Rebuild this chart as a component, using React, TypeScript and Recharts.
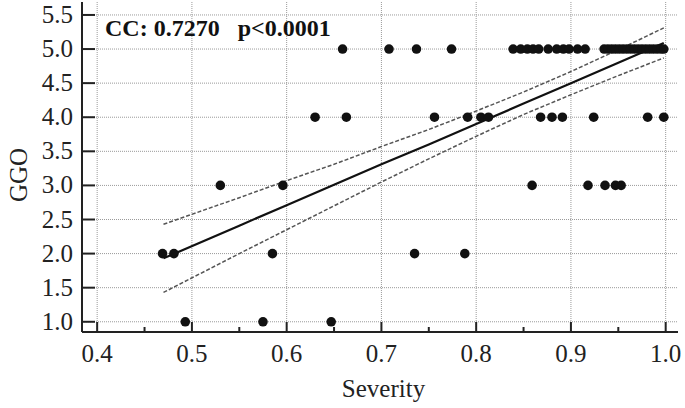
import React from 'react';
import { ScatterChart, Scatter, XAxis, YAxis, CartesianGrid } from 'recharts';

document.body.style.margin = '0';

// GGO score vs severity
const severity5 = [
  0.659, 0.708, 0.737, 0.774, 0.839, 0.847, 0.854, 0.860, 0.866, 0.876, 0.885, 0.892, 0.898, 0.907, 0.915,
  0.935, 0.939, 0.943, 0.947, 0.951, 0.955, 0.959, 0.963, 0.967, 0.971, 0.975, 0.979, 0.983, 0.987, 0.991, 0.995, 0.998,
];
const severity4 = [0.630, 0.663, 0.756, 0.791, 0.805, 0.813, 0.868, 0.880, 0.891, 0.924, 0.981, 0.998];
const severity3 = [0.530, 0.596, 0.859, 0.918, 0.936, 0.947, 0.953];
const severity2 = [0.469, 0.481, 0.585, 0.735, 0.788];
const severity1 = [0.493, 0.575, 0.647];

// regression line and 95% confidence band
const fitX = [0.47, 0.55, 0.6, 0.65, 0.7, 0.75, 0.8, 0.85, 0.9, 0.95, 0.998];
const fitY = [1.93, 2.41, 2.71, 3.01, 3.31, 3.6, 3.9, 4.2, 4.5, 4.8, 5.09];
const upperY = [2.43, 2.82, 3.07, 3.31, 3.57, 3.82, 4.09, 4.37, 4.67, 4.99, 5.31];
const lowerY = [1.43, 2.0, 2.35, 2.7, 3.05, 3.39, 3.72, 4.04, 4.33, 4.61, 4.87];

const xMajor = [0.4, 0.5, 0.6, 0.7, 0.8, 0.9, 1.0];
const xTicks = [0.4, 0.45, 0.5, 0.55, 0.6, 0.65, 0.7, 0.75, 0.8, 0.85, 0.9, 0.95, 1.0];
const yTicks = [1.0, 1.5, 2.0, 2.5, 3.0, 3.5, 4.0, 4.5, 5.0, 5.5];

const points = [
  ...severity5.map((x) => ({ x, y: 5 })),
  ...severity4.map((x) => ({ x, y: 4 })),
  ...severity3.map((x) => ({ x, y: 3 })),
  ...severity2.map((x) => ({ x, y: 2 })),
  ...severity1.map((x) => ({ x, y: 1 })),
];
const fitLine = fitX.map((x, i) => ({ x, y: fitY[i] }));
const upperLine = fitX.map((x, i) => ({ x, y: upperY[i] }));
const lowerLine = fitX.map((x, i) => ({ x, y: lowerY[i] }));

const FONT = '"Liberation Serif", "Times New Roman", serif';

const XTick = (props: any) => {
  const { x, y, payload } = props;
  const major = xMajor.some((v) => Math.abs(v - payload.value) < 1e-6);
  return (
    <g>
      <line x1={x} x2={x} y1={y} y2={y - (major ? 10 : 5)} stroke="#222" strokeWidth={2} />
      {major && (
        <text x={x} y={y + 30} textAnchor="middle" fontSize={25} fontFamily={FONT} fill="#222">
          {payload.value.toFixed(1)}
        </text>
      )}
    </g>
  );
};

const YTick = (props: any) => {
  const { x, y, payload } = props;
  return (
    <g>
      <line x1={x} x2={x + 13} y1={y} y2={y} stroke="#222" strokeWidth={2} />
      <text x={x - 9} y={y + 8} textAnchor="end" fontSize={25} fontFamily={FONT} fill="#222">
        {payload.value.toFixed(1)}
      </text>
    </g>
  );
};

const noShape = () => <g />;

export default function App() {
  return (
    <div style={{ width: 685, height: 408, background: '#fff', position: 'relative' }}>
      <ScatterChart width={685} height={408} margin={{ top: 2, right: 7, bottom: 0, left: 0 }}>
        <CartesianGrid
          stroke="#9a9a9a"
          strokeDasharray="1 1"
          verticalValues={xMajor}
          horizontalValues={yTicks}
        />
        <XAxis
          type="number"
          dataKey="x"
          domain={[0.384, 1.013]}
          ticks={xTicks}
          interval={0}
          height={76}
          tickSize={0}
          tickMargin={0}
          tickLine={false}
          tick={<XTick />}
          axisLine={{ stroke: '#222', strokeWidth: 2 }}
          allowDataOverflow
        />
        <XAxis xAxisId="top" orientation="top" type="number" domain={[0.384, 1.013]} height={0} tick={false} tickLine={false} axisLine={{ stroke: '#222', strokeWidth: 2 }} />
        <YAxis
          type="number"
          dataKey="y"
          domain={[0.85, 5.69]}
          ticks={yTicks}
          interval={0}
          width={82}
          tickSize={0}
          tickMargin={0}
          tickLine={false}
          tick={<YTick />}
          axisLine={{ stroke: '#222', strokeWidth: 2 }}
          allowDataOverflow
        />
        <YAxis yAxisId="right" orientation="right" type="number" domain={[0.85, 5.69]} width={0} tick={false} tickLine={false} axisLine={{ stroke: '#222', strokeWidth: 2 }} />
        <Scatter data={upperLine} line={{ stroke: '#555', strokeWidth: 1.5, strokeDasharray: '4 2' }} shape={noShape} isAnimationActive={false} />
        <Scatter data={lowerLine} line={{ stroke: '#555', strokeWidth: 1.5, strokeDasharray: '4 2' }} shape={noShape} isAnimationActive={false} />
        <Scatter data={fitLine} line={{ stroke: '#111', strokeWidth: 2.2 }} shape={noShape} isAnimationActive={false} />
        <Scatter
          data={points}
          fill="#111"
          isAnimationActive={false}
          shape={(p: any) => <circle cx={p.cx} cy={p.cy} r={4.8} fill="#111" />}
        />
      </ScatterChart>
      <div style={{ position: 'absolute', left: 105, top: 16, lineHeight: '24px', fontFamily: FONT, fontWeight: 'bold', fontSize: 24, color: '#111', whiteSpace: 'pre' }}>
        {'CC: 0.7270   p<0.0001'}
      </div>
      <div style={{ position: 'absolute', left: 19, top: 175, width: 0, height: 0 }}>
        <div style={{ position: 'absolute', left: -40, top: -13, width: 80, lineHeight: '26px', textAlign: 'center', transform: 'rotate(-90deg)', fontFamily: FONT, fontSize: 25, color: '#222' }}>
          GGO
        </div>
      </div>
      <div style={{ position: 'absolute', left: 0, width: 685, top: 375, paddingLeft: 82, boxSizing: 'border-box', textAlign: 'center', fontFamily: FONT, fontSize: 25, color: '#222' }}>
        Severity
      </div>
    </div>
  );
}
